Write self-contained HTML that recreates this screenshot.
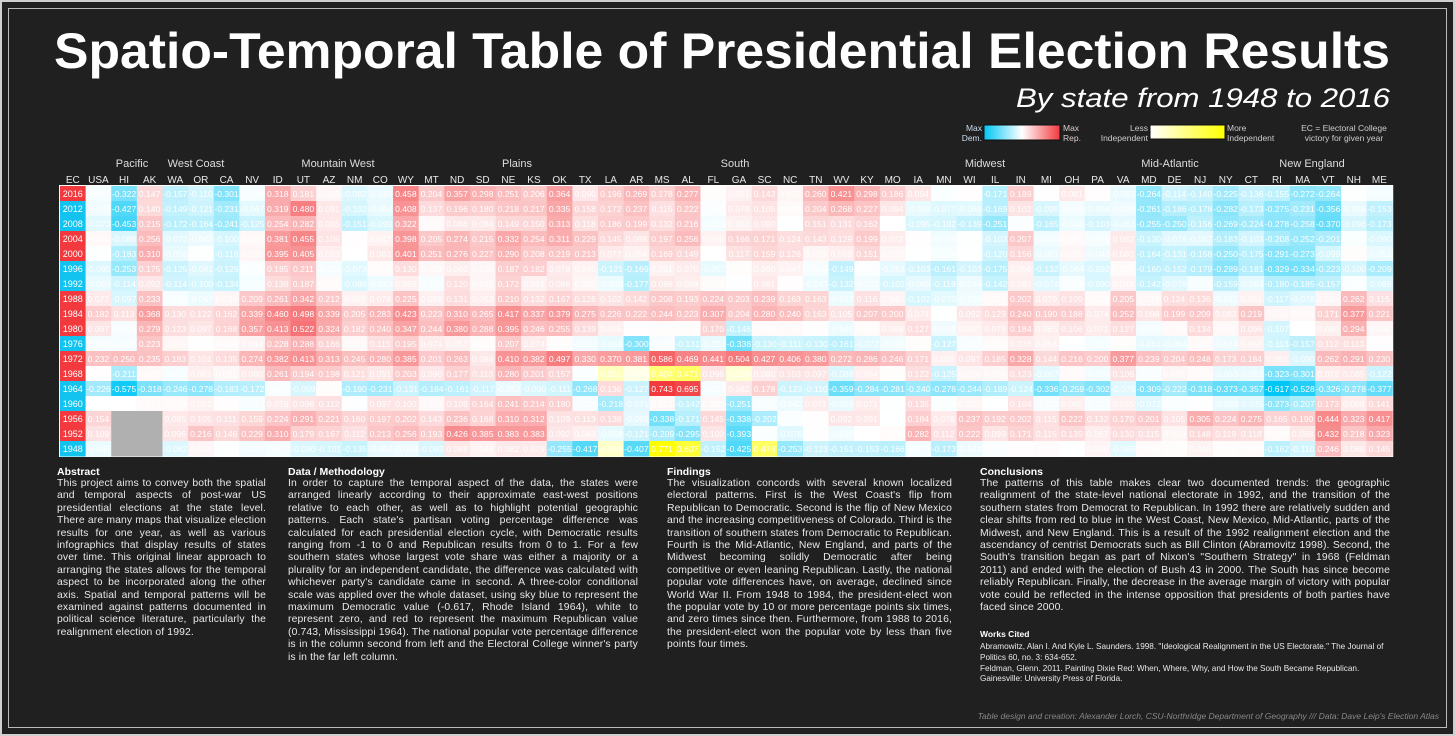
<!DOCTYPE html>
<html><head><meta charset="utf-8">
<style>
body{margin:0;width:1455px;height:736px;background:#222;overflow:hidden;font-family:"Liberation Sans",sans-serif;}
#frame{position:absolute;left:0;top:0;width:1451px;height:732px;border:2px solid #cfcfcf;background:#202020;}
#inner{position:absolute;left:8px;top:8px;width:1437px;height:718px;border:1px solid #bbb;}
.col{position:absolute;top:466px;color:#e8e8e8;font-size:10.4px;line-height:12.4px;letter-spacing:0.12px;text-align:justify;}
.col h3{margin:0;font-size:10.5px;font-weight:bold;color:#fff;line-height:12px;letter-spacing:0;}
.col p{margin:0;}
.wc{font-size:8.2px;line-height:10.6px;text-align:left;margin-top:4px;letter-spacing:0;}
#credit{position:absolute;right:16px;top:711px;font-size:8.5px;font-style:italic;color:#888;}
</style></head><body>
<div id="frame"></div>
<div id="inner"></div>
<svg id="chart" width="1455" height="736" style="position:absolute;left:0;top:0">
<text x="54" y="68" font-size="50" font-weight="bold" fill="#fff" textLength="1336" lengthAdjust="spacingAndGlyphs">Spatio-Temporal Table of Presidential Election Results</text>
<text x="1390" y="107" font-size="27" font-style="italic" fill="#fff" text-anchor="end" textLength="374" lengthAdjust="spacingAndGlyphs">By state from 1948 to 2016</text>
<defs>
<linearGradient id="gdr"><stop offset="0" stop-color="#00c6f5"/><stop offset="0.5" stop-color="#fff"/><stop offset="1" stop-color="#f2393d"/></linearGradient>
<linearGradient id="gy"><stop offset="0" stop-color="#fff"/><stop offset="1" stop-color="#ffff00"/></linearGradient>
</defs>
<g>
<text x="982" y="131" font-size="8.5" fill="#cde" text-anchor="end">Max</text>
<text x="982" y="141" font-size="8.5" fill="#cde" text-anchor="end">Dem.</text>
<rect x="984" y="125" width="76" height="15" fill="url(#gdr)" stroke="#111"/>
<text x="1063" y="131" font-size="8.5" fill="#dcc">Max</text>
<text x="1063" y="141" font-size="8.5" fill="#dcc">Rep.</text>
</g>
<g>
<text x="1148" y="131" font-size="8.5" fill="#ccc" text-anchor="end">Less</text>
<text x="1148" y="141" font-size="8.5" fill="#ccc" text-anchor="end">Independent</text>
<rect x="1150" y="125" width="75" height="14" fill="url(#gy)" stroke="#111"/>
<text x="1227" y="131" font-size="8.5" fill="#ccc">More</text>
<text x="1227" y="141" font-size="8.5" fill="#ccc">Independent</text>
</g>
<g>
<text x="1344" y="131" font-size="8.5" fill="#ccc" text-anchor="middle">EC = Electoral College</text>
<text x="1344" y="141" font-size="8.5" fill="#ccc" text-anchor="middle">victory for given year</text>
</g>
<g id="regions"></g>
<g id="heads"></g>
<g id="cells"></g>
</svg>

<div class="col" style="left:57px;width:209px"><h3>Abstract</h3><p>This project aims to convey both the spatial and temporal aspects of post-war US presidential elections at the state level. There are many maps that visualize election results for one year, as well as various infographics that display results of states over time. This original linear approach to arranging the states allows for the temporal aspect to be incorporated along the other axis. Spatial and temporal patterns will be examined against patterns documented in political science literature, particularly the realignment election of 1992.</p></div>
<div class="col" style="left:288px;width:350px"><h3>Data / Methodology</h3><p>In order to capture the temporal aspect of the data, the states were arranged linearly according to their approximate east-west positions relative to each other, as well as to highlight potential geographic patterns. Each state's partisan voting percentage difference was calculated for each presidential election cycle, with Democratic results ranging from -1 to 0 and Republican results from 0 to 1. For a few southern states whose largest vote share was either a majority or a plurality for an independent candidate, the difference was calculated with whichever party's candidate came in second. A three-color conditional scale was applied over the whole dataset, using sky blue to represent the maximum Democratic value (-0.617, Rhode Island 1964), white to represent zero, and red to represent the maximum Republican value (0.743, Mississippi 1964). The national popular vote percentage difference is in the column second from left and the Electoral College winner's party is in the far left column.</p></div>
<div class="col" style="left:667px;width:285px"><h3>Findings</h3><p>The visualization concords with several known localized electoral patterns. First is the West Coast's flip from Republican to Democratic. Second is the flip of New Mexico and the increasing competitiveness of Colorado. Third is the transition of southern states from Democratic to Republican. Fourth is the Mid-Atlantic, New England, and parts of the Midwest becoming solidly Democratic after being competitive or even leaning Republican. Lastly, the national popular vote differences have, on average, declined since World War II. From 1948 to 1984, the president-elect won the popular vote by 10 or more percentage points six times, and zero times since then. Furthermore, from 1988 to 2016, the president-elect won the popular vote by less than five points four times.</p></div>
<div class="col" style="left:980px;width:410px"><h3>Conclusions</h3><p>The patterns of this table makes clear two documented trends: the geographic realignment of the state-level national electorate in 1992, and the transition of the southern states from Democrat to Republican. In 1992 there are relatively sudden and clear shifts from red to blue in the West Coast, New Mexico, Mid-Atlantic, parts of the Midwest, and New England. This is a result of the 1992 realignment election and the ascendancy of centrist Democrats such as Bill Clinton (Abramovitz 1998). Second, the South's transition began as part of Nixon's "Southern Strategy" in 1968 (Feldman 2011) and ended with the election of Bush 43 in 2000. The South has since become reliably Republican. Finally, the decrease in the average margin of victory with popular vote could be reflected in the intense opposition that presidents of both parties have faced since 2000.</p>
<h3 style="font-size:8.5px;margin-top:14px">Works Cited</h3>
<p class="wc" style="margin-top:2px">Abramowitz, Alan I. And Kyle L. Saunders. 1998. "Ideological Realignment in the US Electorate." The Journal of Politics 60, no. 3: 634-652.<br>Feldman, Glenn. 2011. Painting Dixie Red: When, Where, Why, and How the South Became Republican. Gainesville: University Press of Florida.</p></div>
<div id="credit">Table design and creation: Alexander Lorch, CSU-Northridge Department of Geography /// Data: Dave Leip's Election Atlas</div>

<script>
const states=["USA","HI","AK","WA","OR","CA","NV","ID","UT","AZ","NM","CO","WY","MT","ND","SD","NE","KS","OK","TX","LA","AR","MS","AL","FL","GA","SC","NC","TN","WV","KY","MO","IA","MN","WI","IL","IN","MI","OH","PA","VA","MD","DE","NJ","NY","CT","RI","MA","VT","NH","ME"];
const years=[2016,2012,2008,2004,2000,1996,1992,1988,1984,1980,1976,1972,1968,1964,1960,1956,1952,1948];
const ecWinner=["R","D","D","R","R","D","D","R","R","R","D","R","R","D","D","R","R","D"];
const regions=[["Pacific",132],["West Coast",196],["Mountain West",338],["Plains",517],["South",735],["Midwest",985],["Mid-Atlantic",1170],["New England",1312]];
const independent=[[1968,"LA"],[1968,"AR"],[1968,"MS"],[1968,"AL"],[1968,"GA"],[1948,"LA"],[1948,"MS"],[1948,"AL"],[1948,"SC"]];
const v2016=[-0.021,-0.322,0.147,-0.157,-0.110,-0.301,-0.024,0.318,0.181,0.035,-0.082,-0.049,0.458,0.204,0.357,0.298,0.251,0.206,0.364,0.090,0.196,0.269,0.178,0.277,0.012,0.051,0.143,0.037,0.260,0.421,0.298,0.186,0.094,-0.015,0.008,-0.171,0.189,0.002,0.081,0.007,-0.053,-0.264,-0.114,-0.140,-0.225,-0.136,-0.155,-0.272,-0.264,-0.004,-0.030];
const v2012=[-0.039,-0.427,0.140,-0.149,-0.121,-0.231,-0.067,0.319,0.480,0.091,-0.102,-0.054,0.408,0.137,0.196,0.180,0.218,0.217,0.335,0.158,0.172,0.237,0.115,0.222,-0.009,0.078,0.105,0.020,0.204,0.268,0.227,0.094,-0.058,-0.077,-0.069,-0.169,0.102,-0.095,-0.030,-0.054,-0.039,-0.261,-0.186,-0.178,-0.282,-0.173,-0.275,-0.231,-0.356,-0.056,-0.153];
const v2008=[-0.073,-0.453,0.215,-0.172,-0.164,-0.241,-0.125,0.254,0.282,0.085,-0.151,-0.090,0.322,0.023,0.086,0.084,0.149,0.150,0.313,0.118,0.186,0.199,0.132,0.216,-0.028,0.052,0.090,-0.003,0.151,0.131,0.162,0.001,-0.095,-0.102,-0.139,-0.251,-0.010,-0.165,-0.046,-0.103,-0.063,-0.255,-0.250,-0.156,-0.269,-0.224,-0.278,-0.258,-0.370,-0.096,-0.173];
const v2004=[0.025,-0.088,0.256,-0.072,-0.042,-0.100,0.026,0.381,0.455,0.105,0.008,0.047,0.398,0.205,0.274,0.215,0.332,0.254,0.311,0.229,0.145,0.098,0.197,0.256,0.050,0.166,0.171,0.124,0.143,0.129,0.199,0.072,0.007,-0.035,-0.004,-0.103,0.207,-0.034,0.021,-0.025,0.082,-0.130,-0.076,-0.067,-0.183,-0.103,-0.208,-0.252,-0.201,-0.014,-0.090];
const v2000=[-0.005,-0.183,0.310,-0.056,-0.004,-0.118,0.035,0.395,0.405,0.063,-0.001,0.083,0.401,0.251,0.276,0.227,0.290,0.208,0.219,0.213,0.077,0.054,0.169,0.149,0.000,0.117,0.159,0.128,0.039,0.063,0.151,0.033,-0.003,-0.024,-0.002,-0.120,0.156,-0.051,0.035,-0.042,0.080,-0.164,-0.131,-0.158,-0.250,-0.175,-0.291,-0.273,-0.099,0.013,-0.051];
const v1996=[-0.085,-0.253,0.175,-0.125,-0.081,-0.129,-0.010,0.185,0.211,-0.022,-0.073,0.014,0.130,0.029,0.060,0.035,0.187,0.182,0.078,0.049,-0.121,-0.169,0.051,0.070,-0.057,0.012,0.060,0.047,-0.024,-0.149,-0.010,-0.063,-0.103,-0.161,-0.103,-0.175,0.056,-0.132,-0.064,-0.092,0.020,-0.160,-0.152,-0.179,-0.289,-0.181,-0.329,-0.334,-0.223,-0.100,-0.209];
const v1992=[-0.056,-0.114,0.092,-0.114,-0.100,-0.134,-0.026,0.136,0.187,0.020,-0.086,-0.043,0.056,-0.025,0.120,0.035,0.172,0.051,0.086,0.035,-0.046,-0.177,0.088,0.068,0.019,-0.006,0.081,0.008,-0.047,-0.132,-0.032,-0.102,-0.060,-0.119,-0.044,-0.142,0.061,-0.074,-0.018,-0.090,0.044,-0.142,-0.079,-0.024,-0.159,-0.064,-0.180,-0.185,-0.157,-0.012,-0.086];
const v1988=[0.077,-0.097,0.233,-0.016,-0.047,0.036,0.209,0.261,0.342,0.212,0.050,0.078,0.225,0.059,0.131,0.063,0.210,0.132,0.167,0.126,0.102,0.142,0.208,0.193,0.224,0.203,0.239,0.163,0.163,-0.047,0.116,0.040,-0.102,-0.070,-0.036,0.021,0.202,0.079,0.109,0.023,0.205,0.029,0.124,0.136,-0.041,0.051,-0.117,-0.078,0.035,0.262,0.115];
const v1984=[0.182,0.113,0.368,0.130,0.122,0.162,0.339,0.460,0.498,0.339,0.205,0.283,0.423,0.223,0.310,0.265,0.417,0.337,0.379,0.275,0.226,0.222,0.244,0.223,0.307,0.204,0.280,0.240,0.163,0.105,0.207,0.200,0.074,-0.002,0.092,0.129,0.240,0.190,0.188,0.074,0.252,0.098,0.199,0.209,0.083,0.219,0.036,0.028,0.171,0.377,0.221];
const v1980=[0.097,-0.019,0.279,0.123,0.097,0.168,0.357,0.413,0.522,0.324,0.182,0.240,0.347,0.244,0.380,0.288,0.395,0.246,0.255,0.139,0.055,0.006,0.013,0.013,0.170,-0.146,0.015,0.021,0.003,-0.045,0.015,0.068,0.127,-0.039,0.047,0.079,0.184,0.065,0.106,0.071,0.127,-0.030,0.023,0.134,0.027,0.096,-0.107,0.001,0.060,0.294,0.034];
const v1976=[-0.021,-0.025,0.223,0.039,0.002,0.018,0.044,0.228,0.288,0.166,0.025,0.115,0.195,0.074,0.057,0.015,0.207,0.074,0.012,-0.032,-0.058,-0.300,-0.019,-0.131,-0.053,-0.338,-0.130,-0.111,-0.130,-0.161,-0.072,-0.036,0.010,-0.127,-0.017,0.020,0.076,0.054,-0.003,-0.027,0.013,-0.061,-0.054,0.022,-0.044,0.052,-0.113,-0.157,0.112,0.113,0.008];
const v1972=[0.232,0.250,0.235,0.183,0.101,0.135,0.274,0.382,0.413,0.313,0.245,0.280,0.385,0.201,0.263,0.086,0.410,0.382,0.497,0.330,0.370,0.381,0.586,0.469,0.441,0.504,0.427,0.406,0.380,0.272,0.286,0.246,0.171,0.055,0.097,0.185,0.328,0.144,0.216,0.200,0.377,0.239,0.204,0.248,0.173,0.184,0.062,-0.090,0.262,0.291,0.230];
const v1968=[0.007,-0.211,0.026,-0.021,0.061,0.031,0.080,0.261,0.194,0.198,0.121,0.091,0.203,0.090,0.177,0.113,0.280,0.201,0.157,-0.013,0.201,0.076,0.404,0.471,0.096,0.124,0.080,0.103,0.097,-0.088,0.064,0.011,0.122,-0.125,0.036,0.029,0.123,-0.067,0.023,-0.036,0.109,-0.017,0.035,0.021,-0.053,-0.052,-0.323,-0.301,0.072,0.085,-0.122];
const v1964=[-0.226,-0.575,-0.318,-0.246,-0.278,-0.183,-0.172,-0.018,-0.099,0.010,-0.190,-0.231,-0.131,-0.184,-0.161,-0.117,-0.052,-0.090,-0.111,-0.268,0.136,-0.127,0.743,0.695,-0.023,0.082,0.178,-0.123,-0.110,-0.359,-0.284,-0.281,-0.240,-0.278,-0.244,-0.189,-0.124,-0.336,-0.259,-0.302,-0.076,-0.309,-0.222,-0.318,-0.373,-0.357,-0.617,-0.528,-0.326,-0.278,-0.377];
const v1960=[-0.002,-0.001,0.019,0.024,0.052,0.006,-0.023,0.076,0.096,0.112,-0.007,0.097,0.100,0.025,0.109,0.164,0.241,0.214,0.180,-0.020,-0.218,-0.071,0.027,-0.142,0.030,-0.251,-0.025,-0.042,0.071,-0.055,0.071,-0.005,0.135,-0.014,0.037,-0.002,0.104,-0.020,0.065,-0.023,0.055,-0.072,-0.016,-0.008,-0.053,-0.075,-0.273,-0.207,0.173,0.068,0.141];
const v1956=[0.154,null,null,0.085,0.105,0.111,0.159,0.224,0.291,0.221,0.160,0.197,0.202,0.143,0.236,0.168,0.310,0.312,0.109,0.113,0.138,-0.060,-0.338,-0.171,0.145,-0.338,-0.202,-0.013,0.006,0.092,0.091,-0.002,0.184,0.078,0.237,0.192,0.202,0.115,0.222,0.132,0.170,0.201,0.105,0.305,0.224,0.275,0.165,0.190,0.444,0.323,0.417];
const v1952=[0.109,null,null,0.096,0.216,0.146,0.229,0.310,0.179,0.167,0.112,0.213,0.256,0.193,0.426,0.385,0.383,0.383,0.092,0.063,-0.058,-0.121,-0.209,-0.295,0.100,-0.393,-0.014,-0.076,0.003,-0.038,-0.001,0.016,0.282,0.112,0.222,0.099,0.171,0.115,0.135,0.067,0.130,0.115,0.039,0.148,0.119,0.118,0.018,0.088,0.432,0.218,0.323];
const v1948=[-0.045,null,null,-0.082,0.034,-0.004,-0.031,-0.027,-0.090,-0.101,-0.135,-0.054,-0.043,-0.093,0.088,0.048,0.082,0.079,-0.255,-0.417,0.163,-0.407,0.771,0.607,-0.152,-0.425,0.478,-0.253,-0.123,-0.151,-0.153,-0.166,-0.027,-0.173,-0.044,-0.009,0.008,0.017,-0.002,0.040,-0.069,0.014,0.013,0.046,0.010,0.016,-0.162,-0.110,0.246,0.088,0.145];
const values=[v2016,v2012,v2008,v2004,v2000,v1996,v1992,v1988,v1984,v1980,v1976,v1972,v1968,v1964,v1960,v1956,v1952,v1948];

const NS="http://www.w3.org/2000/svg";
const X0=60,CW=25.62,Y0=186,RH=15;
function xCol(i){return X0+i*CW;}
function yRow(r){return Y0+r*RH;}
const DMIN=-0.617,RMAX=0.743,YMAX=0.771;
function mix(a,t){t=Math.max(0,Math.min(1,t));return `rgb(${Math.round(255+(a[0]-255)*t)},${Math.round(255+(a[1]-255)*t)},${Math.round(255+(a[2]-255)*t)})`;}
function color(v,ind){
  if(v===null) return "#b0b0b0";
  if(ind) return mix([255,255,0],v/YMAX);
  if(v<0) return mix([0,198,245],v/DMIN);
  return mix([242,57,61],v/RMAX);
}
function mk(tag,attrs,parent){const e=document.createElementNS(NS,tag);for(const k in attrs)e.setAttribute(k,attrs[k]);parent.appendChild(e);return e;}

const gR=document.getElementById("regions");
regions.forEach(r=>{
  const t=mk("text",{x:r[1],y:167,"font-size":11,fill:"#ddd","text-anchor":"middle"},gR);
  
  
  t.textContent=r[0];
});
const gH=document.getElementById("heads");
["EC"].concat(states).forEach((s,i)=>{
  const t=mk("text",{x:xCol(i)+CW/2,y:183,"font-size":10,fill:"#e8e8e8","text-anchor":"middle"},gH);
  
  
  t.textContent=s;
});
const gC=document.getElementById("cells");
mk("rect",{x:X0-1,y:Y0-1,width:CW*52+2,height:RH*18+2,fill:"#fff"},gC);
years.forEach((yr,r)=>{
  const ec=mk("rect",{x:xCol(0),y:yRow(r),width:CW+0.5,height:RH+0.5,fill:ecWinner[r]==="R"?"#f2393d":"#12c3f0"},gC);
  
  
  const et=mk("text",{x:xCol(0)+CW/2,y:yRow(r)+11,"font-size":9,fill:"#fff","text-anchor":"middle"},gC);
  
  
  et.textContent=yr;
  values[r].forEach((v,c)=>{
    const ind=independent.some(p=>p[0]===yr&&p[1]===states[c]);
    const cell=mk("rect",{x:xCol(c+1),y:yRow(r),width:CW+0.5,height:RH+0.5,fill:color(v,ind)},gC);
    
    
    if(v!==null){
      const t=mk("text",{x:xCol(c+1)+CW/2,y:yRow(r)+11,"font-size":8.6,fill:"#fff","text-anchor":"middle"},gC);
      
      
      t.textContent=v.toFixed(3);
    }
  });
});
</script>
</body></html>
